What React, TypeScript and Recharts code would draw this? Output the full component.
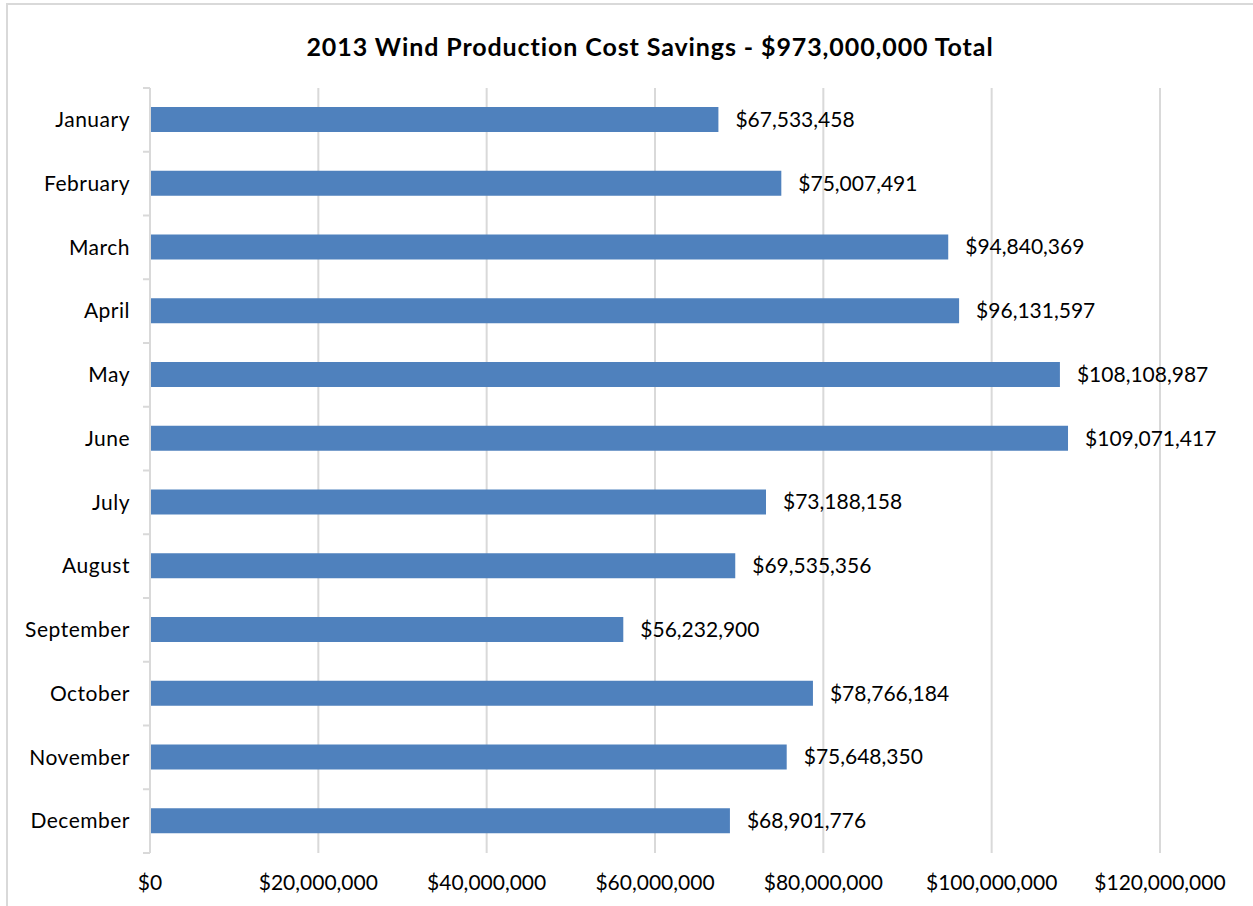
import React from "react";
import { BarChart, Bar, XAxis, YAxis, CartesianGrid, LabelList } from "recharts";

const months = ["January","February","March","April","May","June","July","August","September","October","November","December"];
const savings = [67533458, 75007491, 94840369, 96131597, 108108987, 109071417, 73188158, 69535356, 56232900, 78766184, 75648350, 68901776];
const xTicks = [0, 20000000, 40000000, 60000000, 80000000, 100000000, 120000000];
const title = "2013 Wind Production Cost Savings - $973,000,000 Total";

const data = months.map((m, i) => ({ month: m, value: savings[i] }));

const FONT = "Lato, 'Open Sans', sans-serif";
const money = (v: number) => "$" + Number(v).toLocaleString("en-US");

const PLOT_TOP = 88;
const PLOT_BOTTOM = 853;
const BAND = (PLOT_BOTTOM - PLOT_TOP) / months.length;

const YTick = (props: any) => {
  const { x, y, payload, index } = props;
  const axisX = 150;
  return (
    <g>
      <line x1={axisX - 7} x2={axisX} y1={y - BAND / 2} y2={y - BAND / 2} stroke="#d9d9d9" strokeWidth={2} />
      {index === months.length - 1 && (
        <line x1={axisX - 7} x2={axisX} y1={y + BAND / 2} y2={y + BAND / 2} stroke="#d9d9d9" strokeWidth={2} />
      )}
      <text x={x} y={y} dy="0.35em" textAnchor="end" fontSize={21} letterSpacing={0.5} fill="#000" fontFamily={FONT}>
        {payload.value}
      </text>
    </g>
  );
};

export default function App() {
  return (
    <div style={{ position: "absolute", left: 0, top: 0, width: 1253, height: 906, overflow: "hidden", background: "#fff" }}>
      <div style={{ position: "absolute", left: 6, top: 3, width: 1270, height: 930, border: "2px solid #d9d9d9", boxSizing: "border-box" }} />
      <div style={{ position: "absolute", left: 0, top: 31, width: 1300, textAlign: "center", fontFamily: FONT, fontWeight: 700, fontSize: 25, letterSpacing: 0.9, color: "#000" }}>
        {title}
      </div>
      <div style={{ position: "absolute", left: 0, top: 0 }}>
        <BarChart
          width={1253}
          height={906}
          data={data}
          layout="vertical"
          margin={{ top: PLOT_TOP, right: 93, bottom: 0, left: 8 }}
        >
          <CartesianGrid horizontal={false} vertical={true} stroke="#d9d9d9" strokeWidth={2} />
          <XAxis
            type="number"
            domain={[0, 120000000]}
            ticks={xTicks}
            tickFormatter={money}
            axisLine={false}
            tickLine={false}
            tickSize={0}
            tickMargin={22}
            height={906 - PLOT_BOTTOM}
            interval={0}
            tick={{ fontSize: 21, fill: "#000", fontFamily: FONT }}
          />
          <YAxis
            type="category"
            dataKey="month"
            width={142}
            axisLine={{ stroke: "#d9d9d9", strokeWidth: 2 }}
            tickLine={false}
            tickSize={0}
            tickMargin={20}
            interval={0}
            tick={<YTick />}
          />
          <Bar dataKey="value" fill="#4F81BD" barSize={25} isAnimationActive={false}>
            <LabelList
              dataKey="value"
              position="right"
              offset={17}
              formatter={(v: any) => money(v)}
              style={{ fontSize: 21, fill: "#000", fontFamily: FONT }}
            />
          </Bar>
        </BarChart>
      </div>
    </div>
  );
}
